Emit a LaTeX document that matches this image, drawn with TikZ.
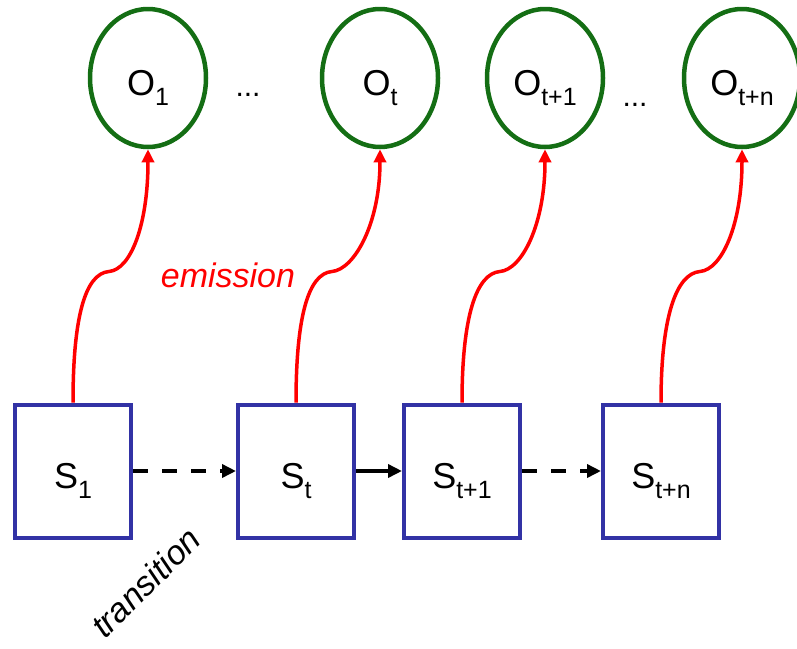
\documentclass[tikz,border=0pt]{standalone}
\usepackage{fontspec}
\setmainfont{Liberation Sans}
\usetikzlibrary{shapes.geometric}
\usetikzlibrary{arrows.meta}
\definecolor{obsgreen}{RGB}{20,110,20}
\definecolor{stateblue}{RGB}{50,50,165}
\newcommand{\idx}[1]{\raisebox{-10pt}{\fontsize{25}{25}\selectfont #1}}

\tikzset{
  obs/.style={ellipse, draw=obsgreen, line width=4.5pt, minimum width=116pt,
    minimum height=138pt, inner sep=0pt, text height=40pt, text depth=6pt,
    font=\fontsize{36}{40}\selectfont},
  state/.style={rectangle, draw=stateblue, line width=4pt, minimum width=116pt,
    minimum height=133pt, inner sep=0pt, text height=40pt, text depth=6pt,
    font=\fontsize{36}{40}\selectfont},
  emit/.style={red, line width=3.5pt, -{Triangle[length=13pt,width=12pt]}},
  trans/.style={black, line width=3.5pt, -{Triangle[length=14pt,width=13pt]}},
  later/.style={trans, dash pattern=on 15pt off 14pt},
}

\begin{document}
\begin{tikzpicture}[x=1pt,y=-1pt]
    \useasboundingbox (0,0) rectangle (797,648);

    \draw node at (148,78)[obs,name=O1]{O\idx{1}};
    \draw node at (380,78)[obs,name=Ot]{O\idx{t}};
    \draw node at (545,78)[obs,name=Ot1]{O\idx{t+1}};
    \draw node at (742,78)[obs,name=Otn]{O\idx{t+n}};
    \draw node at (248,96)[anchor=base,name=dotsa,font=\fontsize{30}{30}\selectfont]{...};
    \draw node at (635,106)[anchor=base,name=dotsb,font=\fontsize{30}{30}\selectfont]{...};

    \draw node at (73,471)[state,name=S1]{S\idx{1}};
    \draw node at (296,471)[state,name=St]{S\idx{t}};
    \draw node at (462,471)[state,name=St1]{S\idx{t+1}};
    \draw node at (661,471)[state,name=Stn]{S\idx{t+n}};

    % emission
    \draw[emit](S1.north) .. controls +(0,-85) and +(-24,2) .. ++(36,-131)
      .. controls +(22,-2) and +(0,75) .. (O1.south);
    \draw[emit](St.north) .. controls +(0,-85) and +(-24,2) .. ++(36,-131)
      .. controls +(22,-2) and +(0,75) .. (Ot.south);
    \draw[emit](St1.north) .. controls +(0,-85) and +(-24,2) .. ++(38,-131)
      .. controls +(22,-2) and +(0,75) .. (Ot1.south);
    \draw[emit](Stn.north) .. controls +(0,-85) and +(-24,2) .. ++(39,-131)
      .. controls +(22,-2) and +(0,75) .. (Otn.south);
    \draw node at (228,287)[anchor=base,name=emission,red,
      font=\fontsize{34}{34}\selectfont\itshape]{emission};

    % transition
    \draw[later](S1) -- (St);
    \draw[trans](St) -- (St1);
    \draw[later](St1) -- (Stn);
    \draw node at (154,591)[anchor=base,rotate=45,name=transition,
      font=\fontsize{34}{34}\selectfont\itshape]{transition};
\end{tikzpicture}
\end{document}
